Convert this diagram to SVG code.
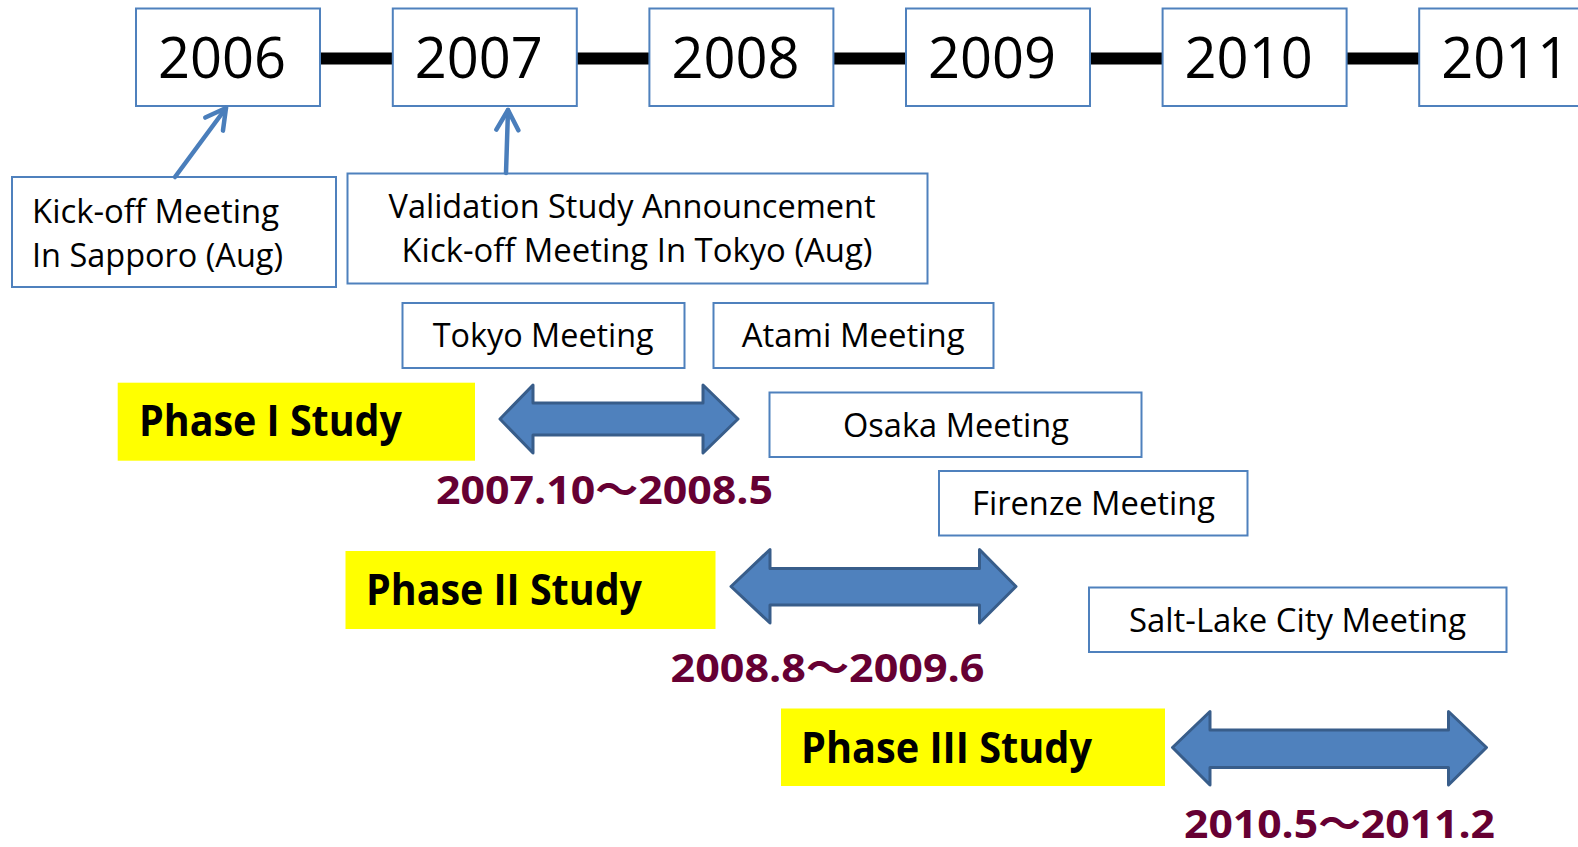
<svg xmlns="http://www.w3.org/2000/svg" width="1578" height="847" viewBox="0 0 1578 847">
<style>
.box{fill:#fff;stroke:#4F81BD;stroke-width:2}
.yr{font-family:"Open Sans","Noto Sans",sans-serif;font-size:56px;fill:#000}
.lbl{font-family:"Open Sans","Noto Sans",sans-serif;font-size:32px;fill:#000}
.ph{fill:#FFFF00}
.pht{font-family:"Open Sans","Noto Sans",sans-serif;font-size:43px;font-weight:bold;fill:#000}
.dt{font-family:"Open Sans","Noto Sans CJK JP",sans-serif;font-size:40px;font-weight:bold;fill:#660033}
.dbl{fill:#4F81BD;stroke:#385D8A;stroke-width:3;stroke-linejoin:round}
.conn{stroke:#4A7EBB;stroke-width:4.5;fill:none;stroke-linecap:round}
</style>
<defs>
<marker id="chev" markerUnits="userSpaceOnUse" viewBox="-25 -15 30 30" refX="0" refY="0" markerWidth="30" markerHeight="30" orient="auto" overflow="visible">
<path d="M-20,-11 L0,0 L-20,11" fill="none" stroke="#4A7EBB" stroke-width="4.5" stroke-linecap="round" stroke-linejoin="round"/>
</marker>
</defs>
<rect width="1578" height="847" fill="#fff"/>
<g id="timeline">
<rect x="320" y="52.5" width="1100" height="12" fill="#000"/>
</g>
<g id="y2006"><rect class="box" x="136" y="8.5" width="184" height="97.5"/><text class="yr" x="158" y="78">2006</text></g>
<g id="y2007"><rect class="box" x="392.8" y="8.5" width="184" height="97.5"/><text class="yr" x="414.8" y="78">2007</text></g>
<g id="y2008"><rect class="box" x="649.4" y="8.5" width="184" height="97.5"/><text class="yr" x="671.4" y="78">2008</text></g>
<g id="y2009"><rect class="box" x="906" y="8.5" width="184" height="97.5"/><text class="yr" x="928" y="78">2009</text></g>
<g id="y2010"><rect class="box" x="1162.6" y="8.5" width="184" height="97.5"/><text class="yr" x="1184.6" y="78">2010</text></g>
<g id="y2011"><rect class="box" x="1419.2" y="8.5" width="184" height="97.5"/><text class="yr" x="1441.2" y="78">2011</text></g>

<g id="kickoff-sapporo"><rect class="box" x="12" y="177" width="324" height="110"/>
<text class="lbl" x="32" y="223" textLength="247" lengthAdjust="spacingAndGlyphs">Kick-off Meeting</text>
<text class="lbl" x="32" y="267" textLength="251" lengthAdjust="spacingAndGlyphs">In Sapporo (Aug)</text></g>

<g id="kickoff-tokyo"><rect class="box" x="347.5" y="173.5" width="580" height="110"/>
<text class="lbl" x="388.5" y="218" textLength="487" lengthAdjust="spacingAndGlyphs">Validation Study Announcement</text>
<text class="lbl" x="401.5" y="262" textLength="471" lengthAdjust="spacingAndGlyphs">Kick-off Meeting In Tokyo (Aug)</text></g>

<g id="tokyo"><rect class="box" x="402.5" y="303" width="282" height="65"/>
<text class="lbl" x="432.7" y="346.5" textLength="221" lengthAdjust="spacingAndGlyphs">Tokyo Meeting</text></g>
<g id="atami"><rect class="box" x="713.5" y="303" width="280" height="65"/>
<text class="lbl" x="741.7" y="346.5" textLength="223" lengthAdjust="spacingAndGlyphs">Atami Meeting</text></g>
<g id="osaka"><rect class="box" x="769.5" y="392.5" width="372" height="64.5"/>
<text class="lbl" x="843" y="436.5" textLength="226" lengthAdjust="spacingAndGlyphs">Osaka Meeting</text></g>
<g id="firenze"><rect class="box" x="939" y="471" width="308.5" height="64.5"/>
<text class="lbl" x="972" y="514.5" textLength="243" lengthAdjust="spacingAndGlyphs">Firenze Meeting</text></g>
<g id="saltlake"><rect class="box" x="1089" y="587.5" width="417.5" height="64.5"/>
<text class="lbl" x="1129" y="631.5" textLength="337" lengthAdjust="spacingAndGlyphs">Salt-Lake City Meeting</text></g>

<g id="phase1"><rect class="ph" x="117.7" y="382.7" width="357.3" height="78"/>
<text class="pht" x="139" y="436" textLength="263" lengthAdjust="spacingAndGlyphs">Phase I Study</text></g>
<g id="phase1-span"><path class="dbl" d="M500,419 L533,385 L533,403 L703,403 L703,385 L738,419 L703,453 L703,435 L533,435 L533,453 Z"/>
<text class="dt" x="436" y="503.5" textLength="337" lengthAdjust="spacingAndGlyphs">2007.10～2008.5</text></g>

<g id="phase2"><rect class="ph" x="345.5" y="551" width="370" height="78"/>
<text class="pht" x="366" y="605" textLength="276" lengthAdjust="spacingAndGlyphs">Phase II Study</text></g>
<g id="phase2-span"><path class="dbl" d="M731,586.5 L770,549.5 L770,568.5 L979.5,568.5 L979.5,549.5 L1016,586.5 L979.5,623 L979.5,605 L770,605 L770,623 Z"/>
<text class="dt" x="670.5" y="682" textLength="314" lengthAdjust="spacingAndGlyphs">2008.8～2009.6</text></g>

<g id="phase3"><rect class="ph" x="781" y="708.5" width="384" height="77.5"/>
<text class="pht" x="801" y="762.5" textLength="291" lengthAdjust="spacingAndGlyphs">Phase III Study</text></g>
<g id="phase3-span"><path class="dbl" d="M1172.5,747.5 L1210,711.5 L1210,730 L1448.5,730 L1448.5,711.5 L1486.5,747.5 L1448.5,785 L1448.5,767.5 L1210,767.5 L1210,785 Z"/>
<text class="dt" x="1184" y="838" textLength="311" lengthAdjust="spacingAndGlyphs">2010.5～2011.2</text></g>

<g id="connectors">
<line class="conn" x1="175" y1="177" x2="226" y2="108" marker-end="url(#chev)"/>
<line class="conn" x1="506" y1="173" x2="508" y2="110" marker-end="url(#chev)"/>
</g>
</svg>
